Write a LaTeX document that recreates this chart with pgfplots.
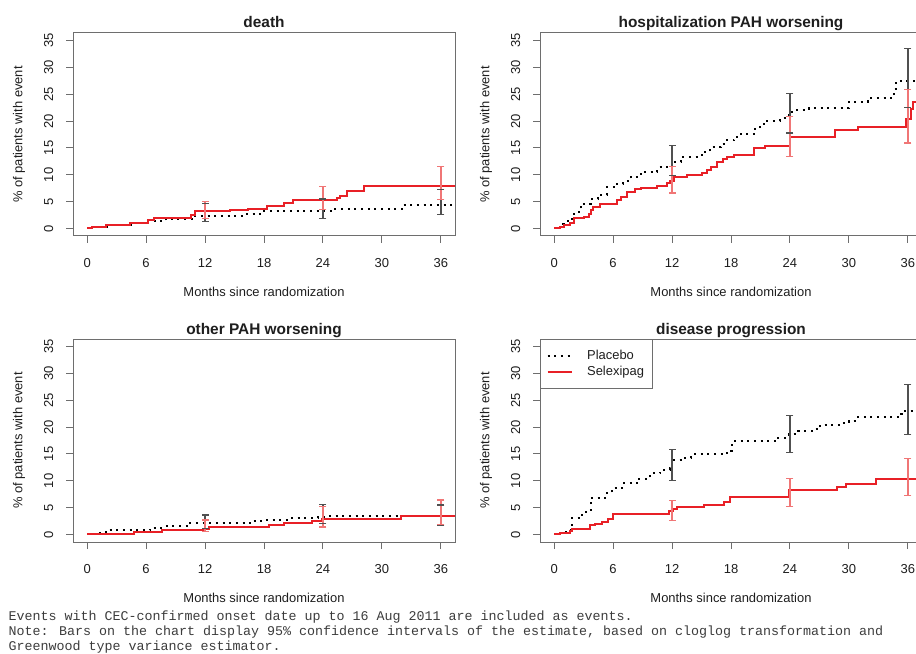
\documentclass[border=0pt]{standalone}
\usepackage{fontspec}
\setmainfont{Liberation Sans}
\newfontfamily\notefont{Liberation Mono}
\usepackage{pgfplots}
\pgfplotsset{compat=1.18}

\definecolor{selred}{RGB}{232,32,38}
\definecolor{selbar}{RGB}{240,118,118}
\definecolor{plabar}{RGB}{80,80,80}
\definecolor{boxgray}{RGB}{110,110,110}
\definecolor{txt}{RGB}{30,30,30}
\definecolor{notetxt}{RGB}{60,60,60}

\pgfplotsset{
  km/.style={
    scale only axis, width=286.5pt, height=152.25pt,
    xmin=-1.44, xmax=37.44, ymin=-1.4, ymax=36.4,
    xtick={0,6,...,36}, ytick={0,5,...,35},
    tick pos=left, tick align=outside, major tick length=5.25pt,
    axis line style={draw=boxgray, line width=0.75pt},
    every tick/.style={draw=boxgray, line width=0.75pt},
    /pgf/number format/assume math mode=true,
    ticklabel style={font=\fontsize{9.75}{11}\selectfont, text=txt},
    xticklabel style={anchor=north, inner sep=0pt},
    yticklabel style={rotate=90, anchor=south, inner sep=0pt},
    xticklabel shift=11.5pt, yticklabel shift=9.4pt,
    xlabel={Months since randomization},
    ylabel={\% of patients with event},
    label style={font=\fontsize{9.7}{11}\selectfont, text=txt},
    xlabel style={at={(axis description cs:0.5,-0.2759)}, anchor=center},
    ylabel style={at={(axis description cs:-0.1414,0.5)}, anchor=center},
    every axis title/.style={at={(axis description cs:0.5,1)}, anchor=base, yshift=3.75pt,
                 font=\bfseries\fontsize{11.55}{13}\selectfont, text=txt},
    unbounded coords=jump,
    clip=true,
  },
  placebo/.style={black, line width=1.5pt, dash pattern=on 1.5pt off 3.5pt, const plot, mark=none},
  selexipag/.style={selred, line width=1.5pt, const plot, mark=none},
  % confidence intervals: vertical segment from lower to upper bound, capped
  placi/.style={forget plot, plabar, line width=1pt, mark=-, mark size=2.6pt,
    mark options={solid, line width=1pt}},
  selci/.style={forget plot, selbar, line width=1pt, mark=-, mark size=2.6pt,
    mark options={solid, line width=1pt}},
}

\begin{document}
\begin{tikzpicture}
\useasboundingbox (0,0) rectangle (687pt,489.75pt);
\clip (0,0) rectangle (687pt,489.75pt);

% ---- death ----
\begin{axis}[km, at={(54.75pt,312.75pt)}, anchor=south west, title={death}]
\addplot[placebo] coordinates {(0,0) (0.6,0.2) (2.0,0.7) (4.5,1.0) (6.0,1.3) (8.0,1.8) (11.0,2.4) (16.0,2.7) (18.0,3.2) (25.0,3.6) (32.0,4.4) (37.4,4.4)};
\addplot[selexipag] coordinates {(0,0) (0.45,0.3) (1.9,0.7) (4.35,1.1) (6.2,1.5) (6.8,2.0) (10.6,2.6) (11.0,3.2) (14.5,3.4) (16.4,3.7) (18.3,4.2) (20.0,4.7) (21.0,5.3) (25.4,5.6) (25.7,6.0) (26.4,6.9) (28.2,8.0) (37.4,8.0)};
\addplot[placi] coordinates {(12,1.3) (12,4.6) (12,nan) (24,1.9) (24,5.5) (24,nan) (36,2.6) (36,7.3)};
\addplot[selci] coordinates {(12,1.8) (12,5.0) (12,nan) (24,3.5) (24,7.8) (24,nan) (36,5.4) (36,11.5)};
\end{axis}

% ---- hospitalization PAH worsening ----
\begin{axis}[km, at={(405pt,312.75pt)}, anchor=south west, title={hospitalization PAH worsening}]
\addplot[placebo] coordinates {(0,0) (0.5,0.3) (0.9,0.9) (1.4,1.8) (2.0,3.0) (2.7,4.6) (3.7,5.5) (4.5,6.3) (5.4,7.7) (6.4,8.3) (7.0,8.8) (7.8,9.6) (8.8,10.6) (10.5,11.4) (12.0,12.4) (12.9,13.4) (14.6,13.6) (15.2,14.3) (15.9,15.2) (17.0,15.8) (17.6,16.4) (18.3,17.0) (19.0,17.6) (20.3,18.6) (21.0,19.4) (21.7,20.1) (23.0,20.6) (23.9,21.1) (24.2,22.0) (25.9,22.4) (30.0,23.6) (31.9,24.3) (34.6,26.0) (34.8,27.5) (37.4,27.5)};
\addplot[selexipag] coordinates {(0,0) (0.6,0.2) (1.0,0.6) (1.6,1.0) (2.0,1.9) (3.0,2.2) (3.5,2.7) (3.8,3.4) (4.0,4.0) (4.7,4.6) (6.4,5.3) (6.8,5.8) (7.4,6.8) (8.2,7.3) (8.8,7.6) (10.5,8.0) (11.5,8.5) (11.8,8.9) (12.2,9.6) (13.5,10.0) (15.0,10.4) (15.6,10.8) (16.0,11.4) (16.6,12.4) (17.2,13.0) (17.6,13.3) (18.3,13.6) (20.3,14.9) (21.5,15.4) (24.0,17.1) (28.6,18.3) (30.9,18.9) (35.8,20.4) (36.3,22.3) (36.5,23.5) (37.4,23.5)};
\addplot[placi] coordinates {(12,9.9) (12,15.5) (12,nan) (24,17.8) (24,25.1) (24,nan) (36,22.5) (36,33.5)};
\addplot[selci] coordinates {(12,6.6) (12,11.6) (12,nan) (24,13.4) (24,20.9) (24,nan) (36,15.9) (36,25.9)};
\end{axis}

% ---- other PAH worsening ----
\begin{axis}[km, at={(54.75pt,83.25pt)}, anchor=south west, title={other PAH worsening}]
\addplot[placebo] coordinates {(0,0) (1.0,0.3) (1.9,0.8) (6.4,1.3) (8.0,1.5) (10.5,2.1) (16.6,2.5) (18.3,2.7) (20.7,3.0) (23.5,3.2) (24.4,3.4) (37.4,3.4)};
\addplot[selexipag] coordinates {(0,0) (4.8,0.4) (7.6,0.75) (10.0,0.9) (12.0,1.1) (12.4,1.4) (18.5,1.85) (20.0,2.15) (22.9,2.6) (23.9,2.8) (31.9,3.4) (37.4,3.4)};
\addplot[placi] coordinates {(12,1.1) (12,3.6) (12,nan) (24,2.1) (24,5.6) (24,nan) (36,1.7) (36,5.5)};
\addplot[selci] coordinates {(12,0.5) (12,2.7) (12,nan) (24,1.4) (24,5.2) (24,nan) (36,1.8) (36,6.4)};
\end{axis}

% ---- disease progression ----
\begin{axis}[km, at={(405pt,83.25pt)}, anchor=south west, title={disease progression},
  legend style={at={(axis description cs:0,1)}, anchor=north west,
    draw=boxgray, line width=0.75pt, fill=white,
    font=\fontsize{9.7}{11}\selectfont, text=txt,
    inner xsep=4.5pt, inner ysep=6pt, row sep=-0.5pt, column sep=9pt},
  legend cell align=left,
  legend image code/.code={\draw[#1] (0pt,0pt) -- (18pt,0pt);}]
\addplot[placebo] coordinates {(0,0) (0.5,0.2) (1.0,0.5) (1.5,0.8) (1.8,3.1) (2.5,3.6) (3.2,4.5) (3.7,6.8) (5.4,7.7) (5.9,8.6) (7.1,9.5) (8.4,10.4) (9.8,11.4) (10.8,12.0) (11.8,12.3) (12.0,13.9) (12.9,14.3) (13.9,14.9) (17.6,15.6) (18.1,17.4) (22.7,18.0) (23.9,18.7) (24.8,19.2) (26.4,19.6) (27.1,20.4) (29.2,20.7) (30.0,21.2) (30.9,21.8) (35.3,22.4) (35.6,23.0) (37.4,23.0)};
\addlegendentry{Placebo}
\addplot[selexipag] coordinates {(0,0) (0.6,0.3) (1.6,0.6) (1.8,1.0) (3.6,1.7) (4.2,2.0) (4.9,2.3) (5.5,2.8) (6.0,3.8) (11.7,4.3) (12.1,4.7) (12.5,5.2) (15.2,5.5) (17.3,6.1) (17.9,7.0) (23.9,8.3) (28.8,8.8) (29.7,9.4) (32.8,10.3) (37.4,10.3)};
\addlegendentry{Selexipag}
\addplot[placi] coordinates {(12,10.1) (12,15.8) (12,nan) (24,15.3) (24,22.2) (24,nan) (36,18.6) (36,27.9)};
\addplot[selci] coordinates {(12,2.6) (12,6.3) (12,nan) (24,5.2) (24,10.4) (24,nan) (36,7.2) (36,14.2)};
\end{axis}

% ---- notes ----
\begin{scope}[every node/.style={anchor=base west, inner sep=0pt, text=notetxt,
    font=\notefont\fontsize{10.0}{12}\selectfont}]
\node at (6.2pt,24.4pt) {Events with CEC-confirmed onset date up to 16 Aug 2011 are included as events.};
\node at (6.2pt,13.1pt) {Note: Bars on the chart display 95\% confidence intervals of the estimate, based on cloglog transformation and};
\node at (6.2pt,1.9pt) {Greenwood type variance estimator.};
\end{scope}
\end{tikzpicture}
\end{document}
